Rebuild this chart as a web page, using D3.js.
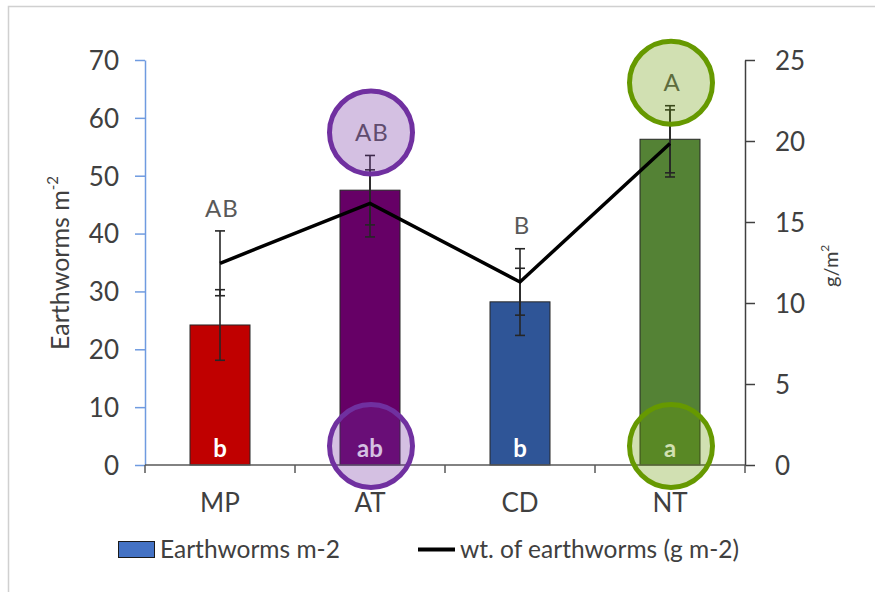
<!DOCTYPE html>
<html>
<head>
<meta charset="utf-8">
<script src="https://cdn.jsdelivr.net/npm/d3@7"></script>
<style>
  html, body { margin: 0; padding: 0; background: #fff; }
  svg { display: block; }
  text { font-family: Lato, "Open Sans", sans-serif; }
</style>
</head>
<body>
<svg id="chart" width="875" height="592"></svg>
<script>
// Earthworm density (bars, left axis) and biomass (line, right axis) by tillage system
const categories = ["MP", "AT", "CD", "NT"];
const density = [24.2, 47.5, 28.2, 56.3];          // earthworms m-2
const densityErr = [6.1, 6.0, 5.8, 5.8];
const weight = [12.45, 16.15, 11.3, 19.85];        // g m-2
const weightErr = [2.0, 2.07, 2.05, 2.07];
const barColors = ["#c00000", "#660066", "#2f5597", "#548235"];
const weightLetters = ["AB", "AB", "B", "A"];
const densityLetters = ["b", "ab", "b", "a"];
const leftTicks = [0, 10, 20, 30, 40, 50, 60, 70];
const rightTicks = [0, 5, 10, 15, 20, 25];
// categories whose letters are ringed, with the ring colour
const ringed = [{cat: "AT", color: "#7030a0"}, {cat: "NT", color: "#669900"}];

const svg = d3.select("#chart");
const m = {left: 145, right: 745, top: 60, bottom: 465};

const x = d3.scaleBand().domain(categories).range([m.left, m.right]).paddingInner(0.6).paddingOuter(0.3);
const xc = d => x(d) + x.bandwidth() / 2;
const yL = d3.scaleLinear().domain([0, 70]).range([m.bottom, m.top]);
const yR = d3.scaleLinear().domain([0, 25]).range([m.bottom, m.top]);

// outer frame
svg.append("rect").attr("x", 8.5).attr("y", 6.5).attr("width", 900).attr("height", 700)
  .attr("fill", "none").attr("stroke", "#d0d0d0").attr("stroke-width", 1.5);

const textCol = "#404040";

// left axis
const gL = svg.append("g").attr("transform", `translate(${m.left},0)`)
  .call(d3.axisLeft(yL).tickValues(leftTicks).tickSize(10).tickPadding(16).tickSizeOuter(0));
gL.select(".domain").attr("stroke", "#6f9be0").attr("stroke-width", 1.5);
gL.selectAll(".tick line").attr("stroke", "#6f9be0").attr("stroke-width", 1.5);
gL.selectAll(".tick text").attr("font-size", 26).attr("fill", textCol).attr("dy", "0.36em");

// right axis
const gR = svg.append("g").attr("transform", `translate(${m.right},0)`)
  .call(d3.axisRight(yR).tickValues(rightTicks).tickSize(10).tickPadding(20).tickSizeOuter(0));
gR.select(".domain").attr("stroke", "#404040").attr("stroke-width", 1.5);
gR.selectAll(".tick line").attr("stroke", "#404040").attr("stroke-width", 1.5);
gR.selectAll(".tick text").attr("font-size", 26).attr("fill", textCol).attr("dy", "0.36em");

// bars
svg.append("g").selectAll("rect").data(categories).join("rect")
  .attr("x", d => x(d)).attr("width", x.bandwidth())
  .attr("y", (d, i) => yL(density[i])).attr("height", (d, i) => yL(0) - yL(density[i]))
  .attr("fill", (d, i) => barColors[i]).attr("stroke", "#262626").attr("stroke-width", 1);

// x axis
const gX = svg.append("g").attr("transform", `translate(0,${m.bottom})`);
gX.append("line").attr("x1", m.left).attr("x2", m.right).attr("stroke", "#595959").attr("stroke-width", 1.5);
const bounds = categories.map(c => x(c) - x.step() * x.paddingInner() / 2).concat([m.right]);
gX.selectAll("line.tk").data(bounds).join("line").attr("class", "tk")
  .attr("x1", d => d).attr("x2", d => d).attr("y1", 0).attr("y2", 8)
  .attr("stroke", "#595959").attr("stroke-width", 1.5);
gX.selectAll("text").data(categories).join("text")
  .attr("x", d => xc(d)).attr("y", 47).attr("text-anchor", "middle")
  .attr("font-size", 26).attr("fill", textCol).text(d => d);

// letters inside bars
svg.append("g").selectAll("text").data(categories).join("text")
  .attr("x", d => xc(d)).attr("y", m.bottom - 8).attr("text-anchor", "middle")
  .attr("font-size", 24).attr("font-weight", 700).attr("fill", "#fff")
  .text((d, i) => densityLetters[i]);

// error bars
function errBar(g, cx, lo, hi) {
  const cap = 5;
  g.append("line").attr("x1", cx).attr("x2", cx).attr("y1", lo).attr("y2", hi);
  g.append("line").attr("x1", cx - cap).attr("x2", cx + cap).attr("y1", lo).attr("y2", lo);
  g.append("line").attr("x1", cx - cap).attr("x2", cx + cap).attr("y1", hi).attr("y2", hi);
}
const gE = svg.append("g").attr("stroke", "#262626").attr("stroke-width", 1.6);
categories.forEach((c, i) => {
  errBar(gE, xc(c), yL(density[i] - densityErr[i]), yL(density[i] + densityErr[i]));
  errBar(gE, xc(c), yR(weight[i] - weightErr[i]), yR(weight[i] + weightErr[i]));
});

// weight line
svg.append("path")
  .datum(categories)
  .attr("fill", "none").attr("stroke", "#000").attr("stroke-width", 3.5)
  .attr("d", d3.line().x(d => xc(d)).y((d, i) => yR(weight[i])));

// letters above the error bars
const topY = categories.map((c, i) => Math.min(yL(density[i] + densityErr[i]), yR(weight[i] + weightErr[i])) - 23);
svg.append("g").selectAll("text").data(categories).join("text")
  .attr("x", d => xc(d) + 2).attr("y", (d, i) => topY[i]).attr("dy", "0.36em").attr("text-anchor", "middle")
  .attr("font-size", 24).attr("fill", "#595959").attr("letter-spacing", 1)
  .text((d, i) => weightLetters[i]);

// rings around selected letters
ringed.forEach(r => {
  const i = categories.indexOf(r.cat);
  [topY[i], m.bottom - 19].forEach(cy => {
    svg.append("circle").attr("cx", xc(r.cat) + 1).attr("cy", cy).attr("r", 41.5)
      .attr("fill", r.color).attr("fill-opacity", 0.3)
      .attr("stroke", r.color).attr("stroke-width", 5);
  });
});

// axis titles
const tL = svg.append("text").attr("transform", "translate(69,350) rotate(-90)")
  .attr("text-anchor", "start").attr("font-size", 25).attr("fill", textCol);
tL.append("tspan").text("Earthworms m");
tL.append("tspan").attr("font-size", 15).attr("dy", -11).text("-2");

const tR = svg.append("text").attr("transform", "translate(838,287) rotate(-90)")
  .attr("text-anchor", "start").attr("font-size", 20).attr("fill", textCol);
tR.append("tspan").text("g/m");
tR.append("tspan").attr("font-size", 12).attr("dy", -9).text("2");

// legend
const gLeg = svg.append("g");
gLeg.append("rect").attr("x", 118.5).attr("y", 541.5).attr("width", 36).attr("height", 16)
  .attr("fill", "#4472c4").attr("stroke", "#1a1a1a").attr("stroke-width", 1);
gLeg.append("text").attr("x", 160).attr("y", 558).attr("font-size", 24.5).attr("fill", textCol).text("Earthworms m-2");
gLeg.append("line").attr("x1", 418).attr("x2", 455).attr("y1", 549.5).attr("y2", 549.5)
  .attr("stroke", "#000").attr("stroke-width", 4);
gLeg.append("text").attr("x", 460).attr("y", 558).attr("font-size", 24.5).attr("fill", textCol).text("wt. of earthworms (g m-2)");
</script>
</body>
</html>
